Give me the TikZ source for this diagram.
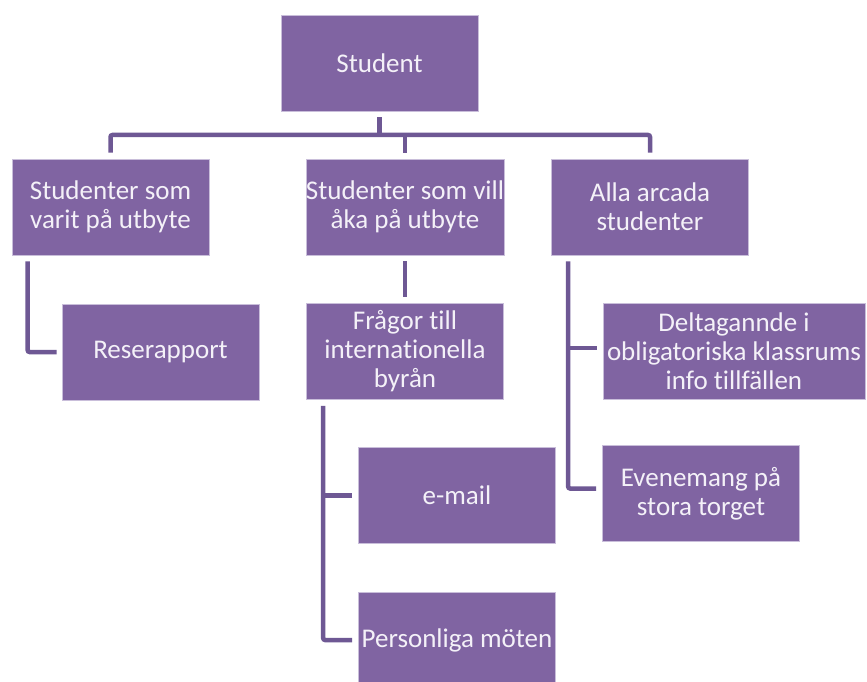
\documentclass[tikz,border=0pt]{standalone}
\usepackage{fontspec}
\setmainfont{Carlito}[Ligatures=NoCommon]
\usetikzlibrary{calc}
\definecolor{boxfill}{HTML}{8064A2}
\definecolor{boxedge}{HTML}{C9BEDA}
\definecolor{linkcol}{HTML}{6E5894}
\definecolor{boxtext}{HTML}{F4F1F8}
\tikzset{
  orgbox/.style={rectangle, fill=boxfill, draw=boxedge, line width=0.7pt,
    minimum width=197pt, minimum height=96pt, inner sep=0pt, align=center,
    text=boxtext, font=\fontsize{27}{29}\selectfont},
  link/.style={draw=linkcol, line width=4.5pt, rounded corners=2pt, line cap=butt}
}
\begin{document}
\begin{tikzpicture}[x=1pt, y=-1pt]
\useasboundingbox (0,0) rectangle (867,682);
\clip (0,0) rectangle (867,682);
\fill[white] (0,0) rectangle (867,682);

% boxes
\node[orgbox] (student) at (379.5,63) {Student};
\node[orgbox] (sA) at (110.5,207) {Studenter som\\varit på utbyte};
\node[orgbox] (sB) at (405,207) {Studenter som vill\\åka på utbyte};
\node[orgbox] (sC) at (650,207) {Alla arcada\\studenter};
\node[orgbox] (rese) at (160.5,352) {Reserapport};
\node[orgbox] (fragor) at (405,351.5) {Frågor till\\internationella\\byrån};
\node[orgbox] (email) at (457,495.5) {e-mail};
\node[orgbox] (pers) at (457,640) {Personliga möten};
\node[orgbox, minimum width=262pt] (delt) at (734,351) {Deltagannde i\\obligatoriska klassrums\\info tillfällen};
\node[orgbox] (even) at (701,493.5) {Evenemang på\\stora torget};

% top level bus
\coordinate (bus) at (0,135);
\draw[link] ($(student.south)+(0,6)$) -- (bus -| student.south);
\draw[link] ($(sA.north)+(0,-6)$) |- (bus -| sC.north) -- ($(sC.north)+(0,-6)$);
\draw[link] (bus -| sB.north) -- ($(sB.north)+(0,-6)$);

% left branch
\draw[link] ($(sA.south west)+(16,6)$) |- ($(rese.west)+(-5,0)$);

% middle branch
\draw[link] ($(sB.south)+(0,6)$) -- ($(fragor.north)+(0,-6)$);
\coordinate (fx) at ($(fragor.south west)+(17,6)$);
\draw[link] (fx) |- ($(pers.west)+(-6,0)$);
\draw[link] ($(email.west)+(-6,0)$) -- (fx |- email.west);

% right branch
\coordinate (cx) at ($(sC.south west)+(17,6)$);
\draw[link] (cx) |- ($(even.west)+(-6,-5)$);
\draw[link] ($(delt.west)+(-6,-3)$) -- (cx |- {$(delt.west)+(0,-3)$});
\end{tikzpicture}
\end{document}
